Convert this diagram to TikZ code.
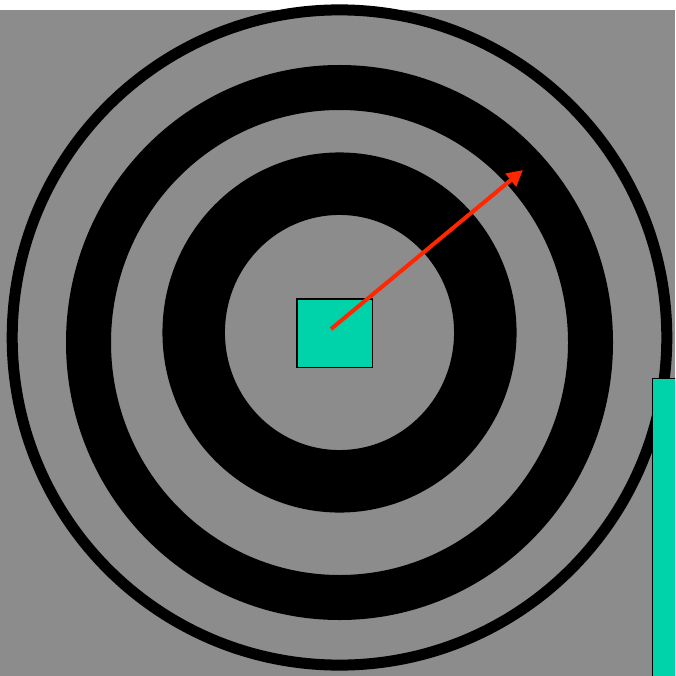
\documentclass[tikz,border=0pt]{standalone}
\usepackage{xcolor}
\usepackage{tikz}
\usetikzlibrary{arrows.meta,positioning}

\definecolor{bggray}{RGB}{140,140,140}
\definecolor{tealc}{RGB}{0,210,170}
\definecolor{redc}{RGB}{255,38,0}

\begin{document}
\begin{tikzpicture}[x=1pt, y=-1pt,
  ring/.style={draw=black},
  box/.style={rectangle, draw=black, line width=1.5pt, fill=tealc, inner sep=0pt},
  line/.style={draw=redc, line width=4pt, -{Triangle[length=16pt, width=16pt]}}]

  \useasboundingbox (0,0) rectangle (675,676);
  \clip (0,0) rectangle (675,676);
  \fill[white] (0,0) rectangle (675,10);
  \fill[bggray] (0,10) rectangle (675,676);

  % rings
  \draw[ring, line width=11pt] (339.5,337.5) ellipse [x radius=327.3pt, y radius=327.6pt];
  \draw[ring, line width=45pt] (339.5,342.5) ellipse [x radius=251pt, y radius=255pt];
  \draw[ring, line width=62.5pt] (339.5,332.5) ellipse [x radius=145.8pt, y radius=148.8pt];

  % target and side bar
  \node [box, minimum width=75.5pt, minimum height=68.5pt] (target) at (334.5,333) {};
  \node [box, anchor=north west, minimum width=60pt, minimum height=340pt] (bar) at (651.75,377.75) {};

  \coordinate (tail) at (331,329);
  \coordinate (tip) at (523,170);
  \path [line] (tail) -- (tip);
\end{tikzpicture}
\end{document}
